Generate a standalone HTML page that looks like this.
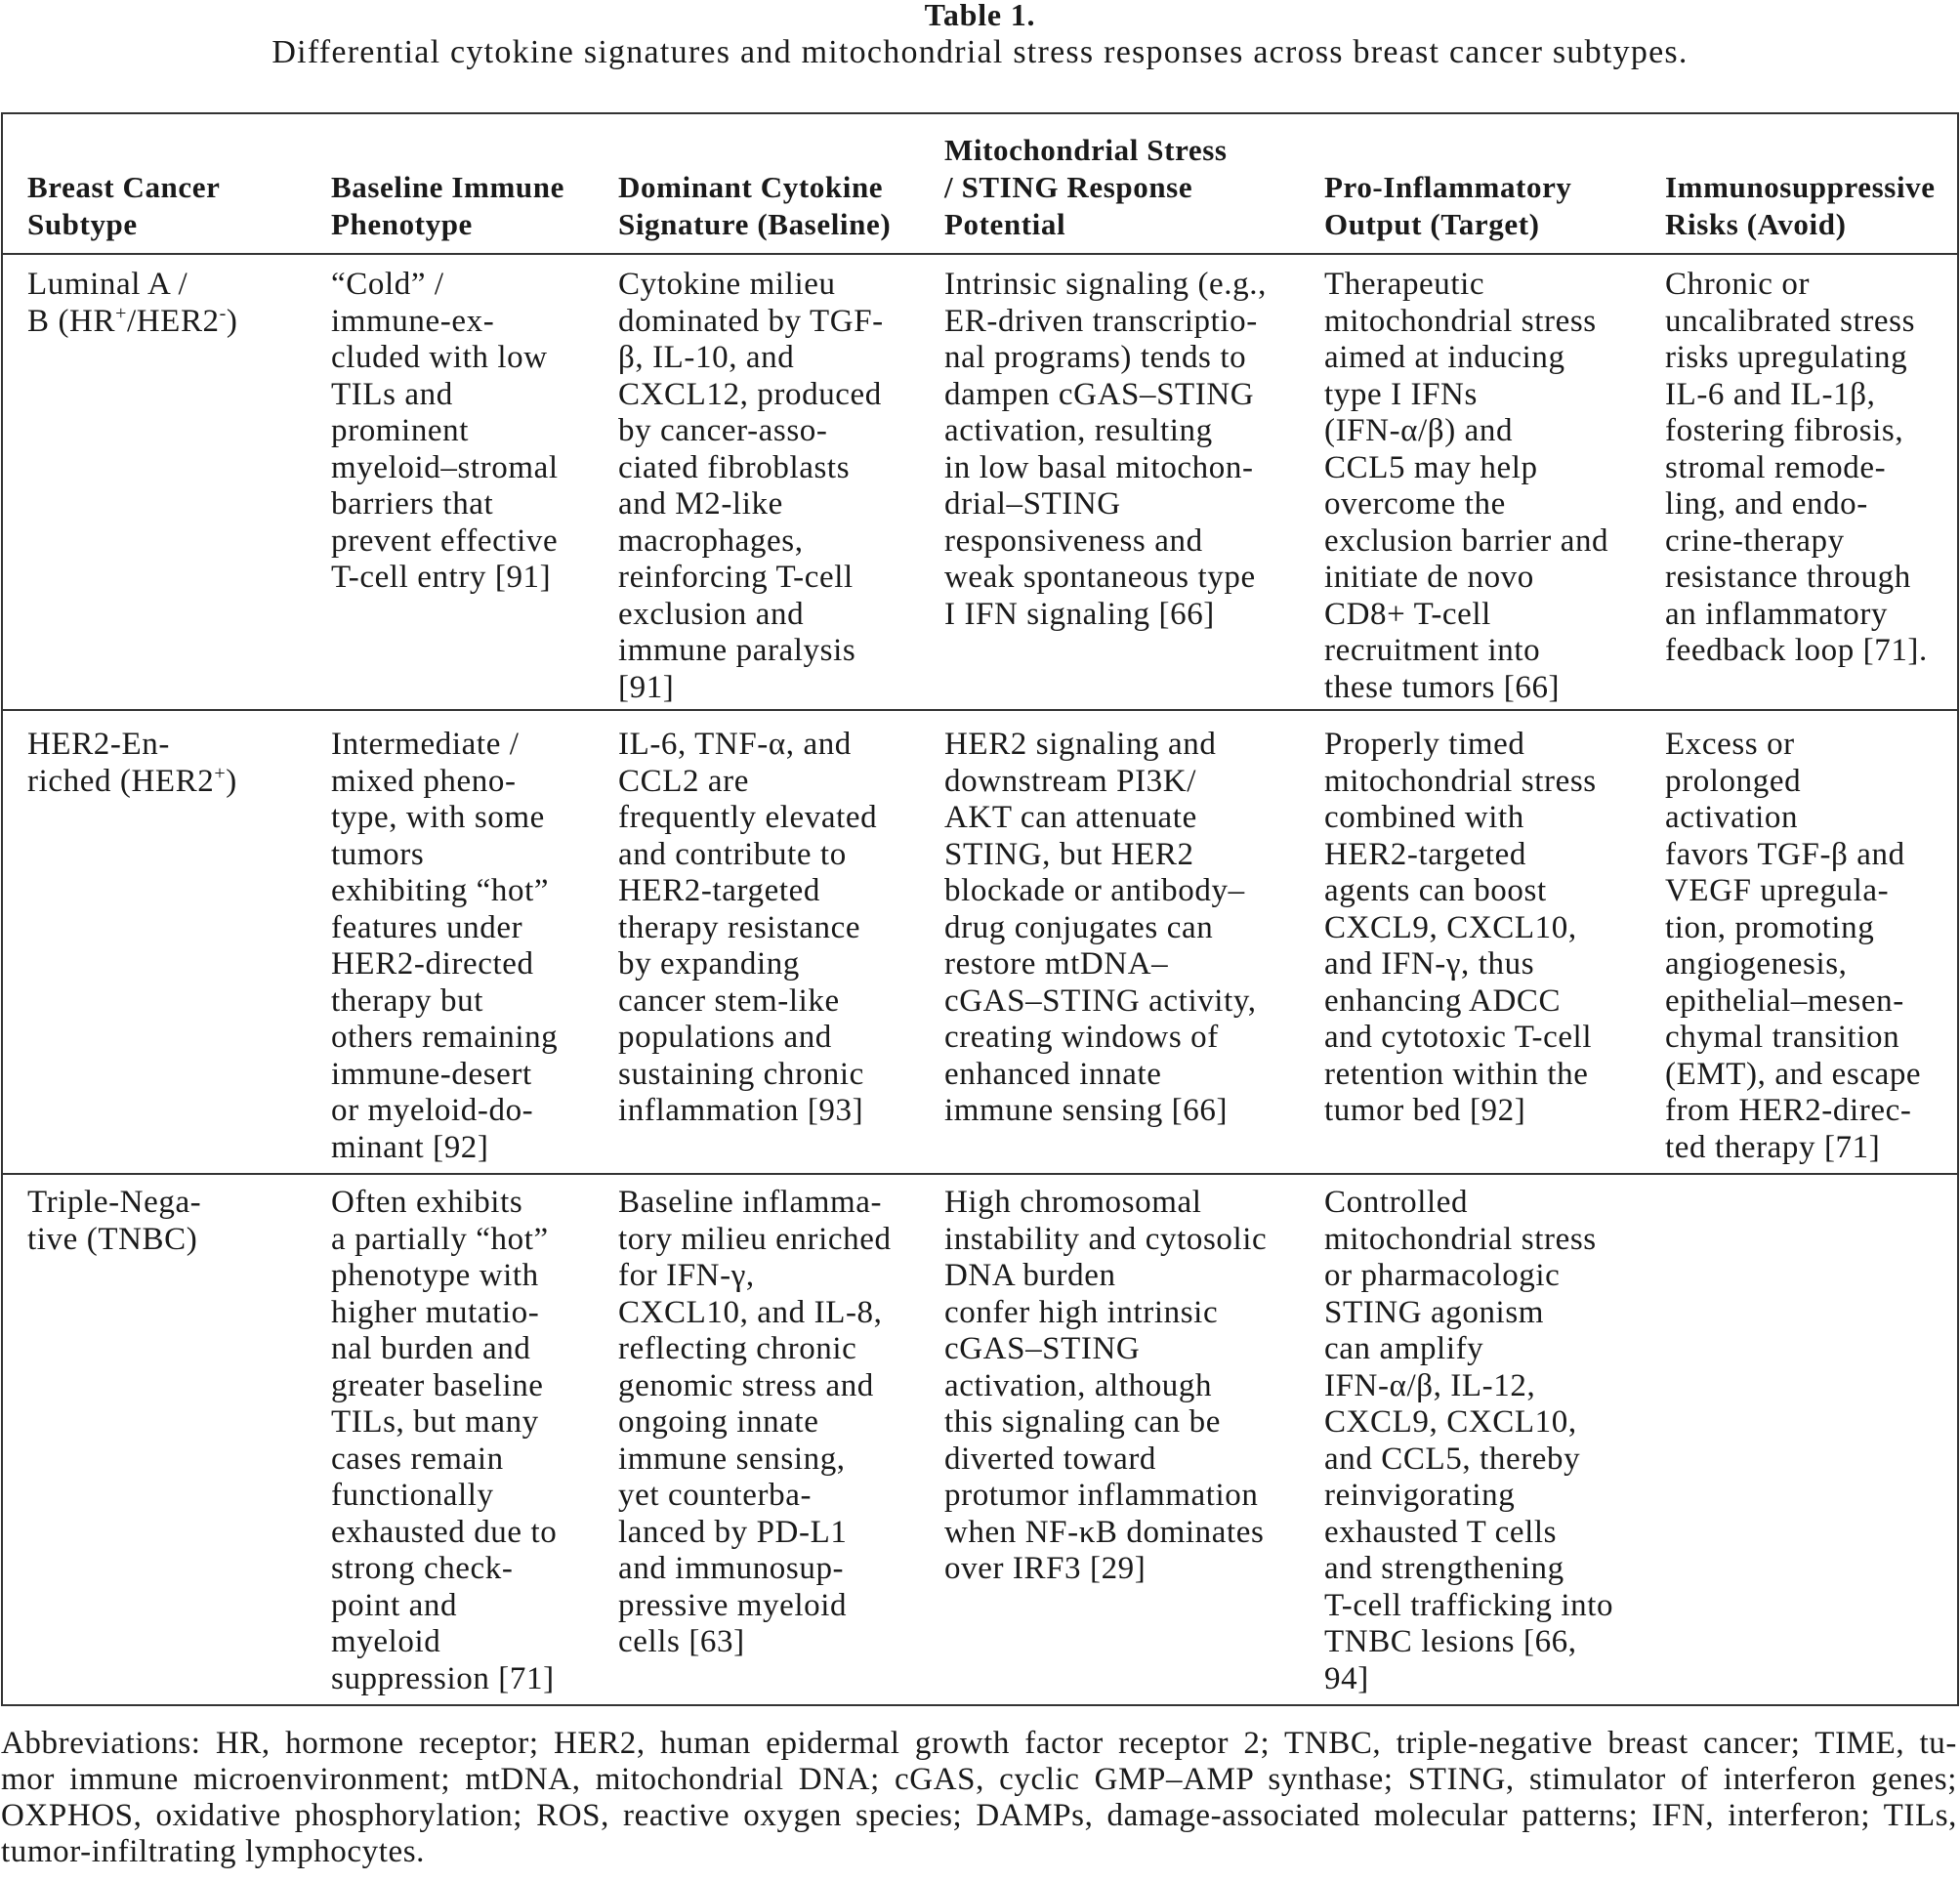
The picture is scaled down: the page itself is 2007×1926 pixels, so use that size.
<!DOCTYPE html>
<html><head><meta charset="utf-8"><style>
html,body{margin:0;padding:0;background:#fff;}
body{width:2007px;height:1926px;position:relative;overflow:hidden;font-family:"Liberation Serif","DejaVu Serif",serif;font-size:33px;letter-spacing:0.6px;color:#1a1a1a;}
.c{position:absolute;line-height:37.5px;white-space:nowrap;}
.h{font-weight:bold;line-height:38px;font-size:31px;letter-spacing:0.6px;}
.ln{position:absolute;left:1px;width:2003px;height:0;border-top:2px solid #333;}
sup{font-size:20px;line-height:0;vertical-align:0;position:relative;top:-12px;}
.fn{position:absolute;left:1px;width:2003px;line-height:37px;text-align:justify;text-align-last:justify;white-space:nowrap;}
</style></head><body>
<div class="c h" style="left:0;width:2007px;text-align:center;top:-4px;font-size:32px;letter-spacing:0.8px;">Table 1.</div>
<div class="c" style="left:0;width:2007px;text-align:center;top:35px;font-size:34px;letter-spacing:1.25px;">Differential cytokine signatures and mitochondrial stress responses across breast cancer subtypes.</div>

<div style="position:absolute;left:1px;top:115px;width:2001px;height:1628px;border:2px solid #333;"></div>
<div class="ln" style="top:259px;"></div>
<div class="ln" style="top:726px;"></div>
<div class="ln" style="top:1201px;"></div>

<div class="c h" style="left:28px;top:173px;">Breast Cancer<br>Subtype</div>
<div class="c h" style="left:339px;top:173px;">Baseline Immune<br>Phenotype</div>
<div class="c h" style="left:633px;top:173px;">Dominant Cytokine<br>Signature (Baseline)</div>
<div class="c h" style="left:967px;top:135px;">Mitochondrial Stress<br>/ STING Response<br>Potential</div>
<div class="c h" style="left:1356px;top:173px;">Pro-Inflammatory<br>Output (Target)</div>
<div class="c h" style="left:1705px;top:173px;">Immunosuppressive<br>Risks (Avoid)</div>

<div class="c" style="left:28px;top:273px;">Luminal A /<br>B (HR<sup>+</sup>/HER2<sup>-</sup>)</div>
<div class="c" style="left:339px;top:273px;">“Cold” /<br>immune-ex-<br>cluded with low<br>TILs and<br>prominent<br>myeloid–stromal<br>barriers that<br>prevent effective<br>T-cell entry [91]</div>
<div class="c" style="left:633px;top:273px;">Cytokine milieu<br>dominated by TGF-<br>β, IL-10, and<br>CXCL12, produced<br>by cancer-asso-<br>ciated fibroblasts<br>and M2-like<br>macrophages,<br>reinforcing T-cell<br>exclusion and<br>immune paralysis<br>[91]</div>
<div class="c" style="left:967px;top:273px;">Intrinsic signaling (e.g.,<br>ER-driven transcriptio-<br>nal programs) tends to<br>dampen cGAS–STING<br>activation, resulting<br>in low basal mitochon-<br>drial–STING<br>responsiveness and<br>weak spontaneous type<br>I IFN signaling [66]</div>
<div class="c" style="left:1356px;top:273px;">Therapeutic<br>mitochondrial stress<br>aimed at inducing<br>type I IFNs<br>(IFN-α/β) and<br>CCL5 may help<br>overcome the<br>exclusion barrier and<br>initiate de novo<br>CD8+ T-cell<br>recruitment into<br>these tumors [66]</div>
<div class="c" style="left:1705px;top:273px;">Chronic or<br>uncalibrated stress<br>risks upregulating<br>IL-6 and IL-1β,<br>fostering fibrosis,<br>stromal remode-<br>ling, and endo-<br>crine-therapy<br>resistance through<br>an inflammatory<br>feedback loop [71].</div>

<div class="c" style="left:28px;top:744px;">HER2-En-<br>riched (HER2<sup>+</sup>)</div>
<div class="c" style="left:339px;top:744px;">Intermediate /<br>mixed pheno-<br>type, with some<br>tumors<br>exhibiting “hot”<br>features under<br>HER2-directed<br>therapy but<br>others remaining<br>immune-desert<br>or myeloid-do-<br>minant [92]</div>
<div class="c" style="left:633px;top:744px;">IL-6, TNF-α, and<br>CCL2 are<br>frequently elevated<br>and contribute to<br>HER2-targeted<br>therapy resistance<br>by expanding<br>cancer stem-like<br>populations and<br>sustaining chronic<br>inflammation [93]</div>
<div class="c" style="left:967px;top:744px;">HER2 signaling and<br>downstream PI3K/<br>AKT can attenuate<br>STING, but HER2<br>blockade or antibody–<br>drug conjugates can<br>restore mtDNA–<br>cGAS–STING activity,<br>creating windows of<br>enhanced innate<br>immune sensing [66]</div>
<div class="c" style="left:1356px;top:744px;">Properly timed<br>mitochondrial stress<br>combined with<br>HER2-targeted<br>agents can boost<br>CXCL9, CXCL10,<br>and IFN-γ, thus<br>enhancing ADCC<br>and cytotoxic T-cell<br>retention within the<br>tumor bed [92]</div>
<div class="c" style="left:1705px;top:744px;">Excess or<br>prolonged<br>activation<br>favors TGF-β and<br>VEGF upregula-<br>tion, promoting<br>angiogenesis,<br>epithelial–mesen-<br>chymal transition<br>(EMT), and escape<br>from HER2-direc-<br>ted therapy [71]</div>

<div class="c" style="left:28px;top:1213px;">Triple-Nega-<br>tive (TNBC)</div>
<div class="c" style="left:339px;top:1213px;">Often exhibits<br>a partially “hot”<br>phenotype with<br>higher mutatio-<br>nal burden and<br>greater baseline<br>TILs, but many<br>cases remain<br>functionally<br>exhausted due to<br>strong check-<br>point and<br>myeloid<br>suppression [71]</div>
<div class="c" style="left:633px;top:1213px;">Baseline inflamma-<br>tory milieu enriched<br>for IFN-γ,<br>CXCL10, and IL-8,<br>reflecting chronic<br>genomic stress and<br>ongoing innate<br>immune sensing,<br>yet counterba-<br>lanced by PD-L1<br>and immunosup-<br>pressive myeloid<br>cells [63]</div>
<div class="c" style="left:967px;top:1213px;">High chromosomal<br>instability and cytosolic<br>DNA burden<br>confer high intrinsic<br>cGAS–STING<br>activation, although<br>this signaling can be<br>diverted toward<br>protumor inflammation<br>when NF-κB dominates<br>over IRF3 [29]</div>
<div class="c" style="left:1356px;top:1213px;">Controlled<br>mitochondrial stress<br>or pharmacologic<br>STING agonism<br>can amplify<br>IFN-α/β, IL-12,<br>CXCL9, CXCL10,<br>and CCL5, thereby<br>reinvigorating<br>exhausted T cells<br>and strengthening<br>T-cell trafficking into<br>TNBC lesions [66,<br>94]</div>

<div class="fn" style="top:1767px;">Abbreviations: HR, hormone receptor; HER2, human epidermal growth factor receptor 2; TNBC, triple-negative breast cancer; TIME, tu-</div>
<div class="fn" style="top:1804px;">mor immune microenvironment; mtDNA, mitochondrial DNA; cGAS, cyclic GMP–AMP synthase; STING, stimulator of interferon genes;</div>
<div class="fn" style="top:1841px;">OXPHOS, oxidative phosphorylation; ROS, reactive oxygen species; DAMPs, damage-associated molecular patterns; IFN, interferon; TILs,</div>
<div class="fn" style="top:1878px;text-align-last:left;">tumor-infiltrating lymphocytes.</div>
</body></html>
